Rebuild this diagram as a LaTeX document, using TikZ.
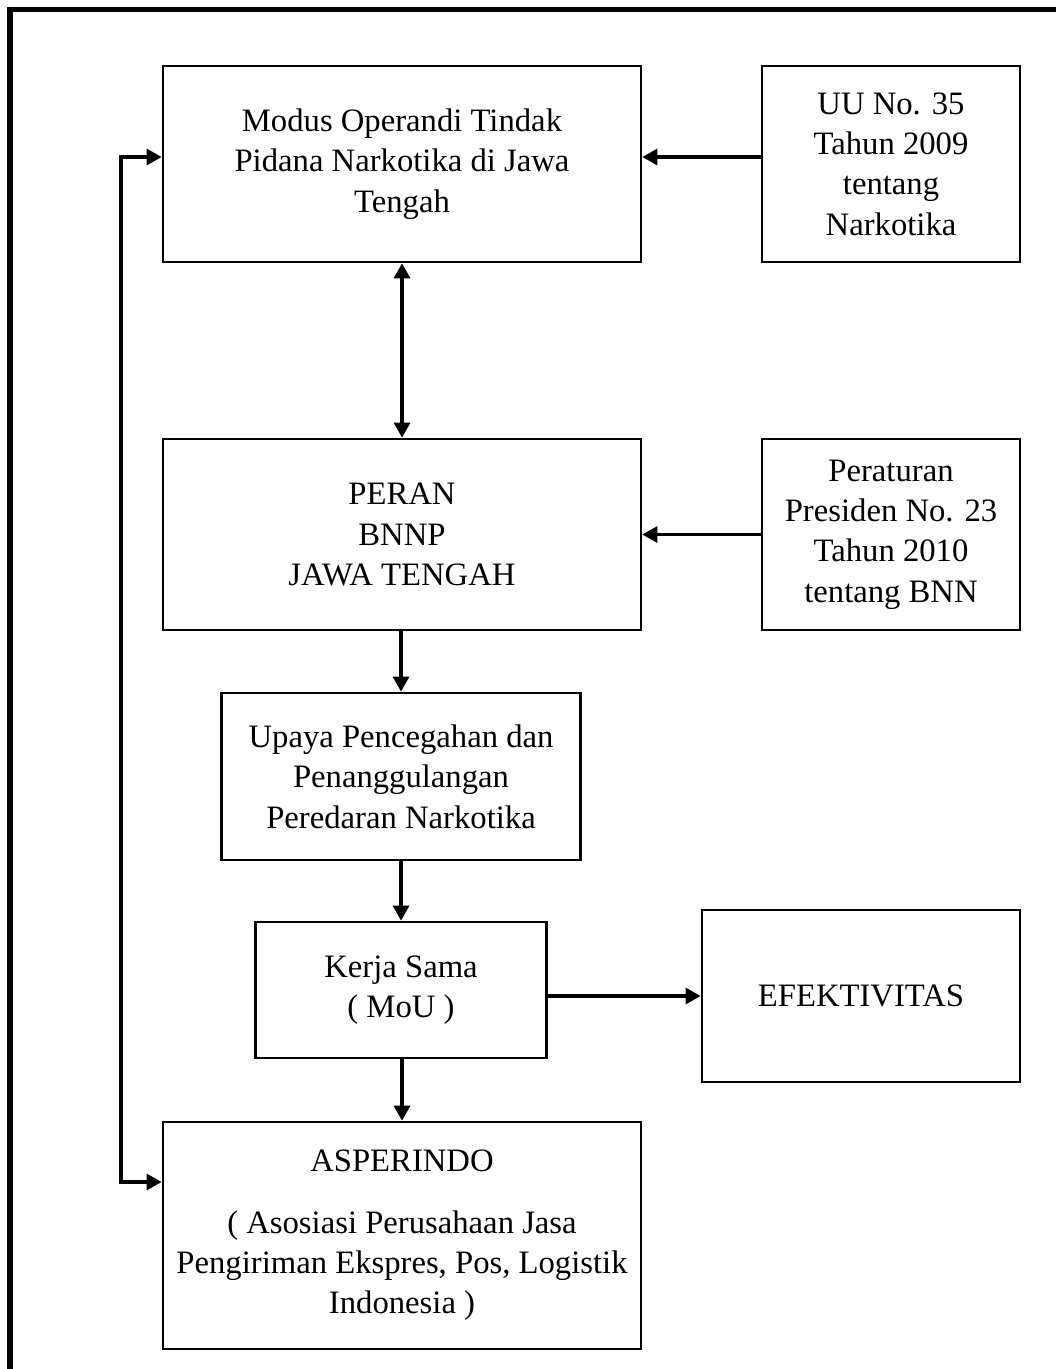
\documentclass[tikz,border=0pt]{standalone}
\usepackage{fontspec}
\setmainfont{Liberation Serif}
\usetikzlibrary{arrows.meta}

\begin{document}
\begin{tikzpicture}[x=0.02cm,y=-0.02cm,
  kotak/.style={draw,line width=1.6pt,align=center,inner sep=0pt,
    font=\fontsize{18.6}{23}\selectfont},
  panah/.style={line width=1.8pt,-{Triangle[length=0.3cm,width=0.32cm]}},
  panahdua/.style={line width=1.8pt,{Triangle[length=0.3cm,width=0.32cm]}-{Triangle[length=0.3cm,width=0.32cm]}}]
\useasboundingbox (0,0) rectangle (1055,1369);
% bingkai luar
\draw[line width=3.2pt] (10,1380) -- (10,9.5) -- (1070,9.5);

% kotak
\node[kotak,minimum width=9.56cm,minimum height=3.92cm] (modus) at (402,164)
  {Modus Operandi Tindak\\Pidana Narkotika di Jawa\\Tengah};
\node[kotak,minimum width=5.16cm,minimum height=3.92cm] (uu) at (891,164)
  {UU No. 35\\Tahun 2009\\tentang\\Narkotika};
\node[kotak,minimum width=9.56cm,minimum height=3.82cm] (peran) at (402,534.5)
  {PERAN\\BNNP\\JAWA TENGAH};
\node[kotak,minimum width=5.16cm,minimum height=3.82cm] (perpres) at (891,534.5)
  {Peraturan\\Presiden No. 23\\Tahun 2010\\tentang BNN};
\node[kotak,minimum width=7.18cm,minimum height=3.34cm] (upaya) at (401,776.5)
  {Upaya Pencegahan dan\\Penanggulangan\\Peredaran Narkotika};
\node[kotak,minimum width=5.82cm,minimum height=2.72cm] (kerja) at (401,990)
  {Kerja Sama\\( MoU )};
\node[kotak,minimum width=6.36cm,minimum height=3.44cm] (efek) at (861,996)
  {EFEKTIVITAS};
\node[kotak,minimum width=9.56cm,minimum height=4.54cm] (asp) at (402,1235.5)
  {ASPERINDO\\[0.42cm]( Asosiasi Perusahaan Jasa\\Pengiriman Ekspres, Pos, Logistik\\Indonesia )};

% panah
\coordinate (sudutA) at (121,157);
\coordinate (sudutB) at (121,1182);
\draw[panah] (uu.west |- sudutA) -- (modus.east |- sudutA);
\draw[panahdua] (modus.south) -- (peran.north);
\draw[panah] (perpres.west) -- (peran.east);
\draw[panah] (peran.south -| upaya) -- (upaya.north);
\draw[panah] (upaya.south) -- (kerja.north);
\draw[panah] (kerja.east |- efek.west) -- (efek.west);
\draw[panah] (kerja.south -| asp) -- (asp.north);
\draw[panahdua] (modus.west |- sudutA) -- (sudutA)
  -- (sudutB) -- (asp.west |- sudutB);
\end{tikzpicture}
\end{document}
